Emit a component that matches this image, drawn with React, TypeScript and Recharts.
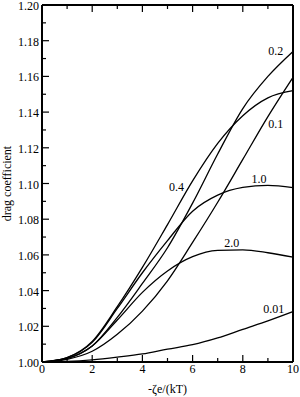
import React from "react";
import {
  LineChart,
  Line,
  XAxis,
  YAxis,
  ReferenceDot,
} from "recharts";

// reduced zeta potential
const xValues = [0, 1, 2, 3, 4, 5, 6, 7, 8, 9, 10];

// drag coefficient, one array per curve
const ka001 = [1.0, 1.0003, 1.0012, 1.0027, 1.0045, 1.0072, 1.0097, 1.0135, 1.0183, 1.023, 1.0282];
const ka01 = [1.0, 1.0015, 1.006, 1.0155, 1.0285, 1.0455, 1.067, 1.0895, 1.1135, 1.1375, 1.1595];
const ka02 = [1.0, 1.002, 1.009, 1.025, 1.044, 1.064, 1.089, 1.1165, 1.142, 1.16, 1.174];
const ka04 = [1.0, 1.0025, 1.0115, 1.031, 1.053, 1.077, 1.1015, 1.1225, 1.138, 1.148, 1.152];
const ka10 = [1.0, 1.0025, 1.011, 1.03, 1.05, 1.068, 1.0845, 1.0935, 1.0978, 1.099, 1.0977];
const ka20 = [1.0, 1.002, 1.009, 1.0235, 1.039, 1.051, 1.059, 1.0625, 1.0628, 1.0612, 1.0587];

const xTicks = [0, 1, 2, 3, 4, 5, 6, 7, 8, 9, 10];
const yTicks = [
  1.0, 1.01, 1.02, 1.03, 1.04, 1.05, 1.06, 1.07, 1.08, 1.09, 1.1,
  1.11, 1.12, 1.13, 1.14, 1.15, 1.16, 1.17, 1.18, 1.19, 1.2,
];

// curve labels: text and where they sit (data units)
const labelText = ["0.2", "0.1", "1.0", "0.4", "2.0", "0.01"];
const labelX = [9.31, 9.31, 8.65, 5.36, 7.56, 9.23];
const labelY = [1.1742, 1.1333, 1.1025, 1.098, 1.067, 1.03];

const data = xValues.map((x, i) => ({
  x,
  ka001: ka001[i],
  ka01: ka01[i],
  ka02: ka02[i],
  ka04: ka04[i],
  ka10: ka10[i],
  ka20: ka20[i],
}));

const FONT = '"Liberation Serif", "Times New Roman", serif';
const MAJOR = 7;
const MINOR = 4;

function XTick(props: any) {
  const { x, y, payload, side } = props;
  const major = payload.value % 2 === 0;
  const len = major ? MAJOR : MINOR;
  const dir = side === "bottom" ? -1 : 1;
  return (
    <g>
      <line x1={x} x2={x} y1={y} y2={y + dir * len} stroke="#000" strokeWidth={1.2} />
      {side === "bottom" && major && (
        <text x={x} y={y + 7} textAnchor="middle" dominantBaseline="central" fontSize={12} fontFamily={FONT} fill="#000">
          {payload.value}
        </text>
      )}
    </g>
  );
}

function YTick(props: any) {
  const { x, y, payload, side } = props;
  const major = Math.round(payload.value * 100) % 2 === 0;
  const len = major ? MAJOR : MINOR;
  const dir = side === "left" ? 1 : -1;
  return (
    <g>
      <line x1={x} x2={x + dir * len} y1={y} y2={y} stroke="#000" strokeWidth={1.2} />
      {side === "left" && major && (
        <text x={x - 3} y={y + 1} textAnchor="end" dominantBaseline="central" fontSize={12} fontFamily={FONT} fill="#000">
          {payload.value.toFixed(2)}
        </text>
      )}
    </g>
  );
}

const series = ["ka001", "ka01", "ka02", "ka04", "ka10", "ka20"];

export default function App() {
  return (
    <div
      style={{
        position: "absolute",
        left: 0,
        top: 0,
        width: 300,
        height: 397,
        background: "#fff",
        fontFamily: FONT,
      }}
    >
      <LineChart
        width={300}
        height={397}
        data={data}
        margin={{ top: 0, right: 0, left: 0, bottom: 0 }}
      >
        <XAxis
          xAxisId="bottom"
          dataKey="x"
          type="number"
          domain={[0, 10]}
          ticks={xTicks}
          height={35}
          tickSize={0}
          tickMargin={0}
          axisLine={{ stroke: "#000", strokeWidth: 2 }}
          tick={(p: any) => <XTick {...p} side="bottom" />}
          interval={0}
          label={{
            content: ({ viewBox }: any) => (
              <text
                x={viewBox.x + viewBox.width / 2}
                y={viewBox.y + 27}
                textAnchor="middle"
                dominantBaseline="central"
                fontSize={12}
                fontFamily={FONT}
                fill="#000"
              >
                -ζe/(kT)
              </text>
            ),
          }}
        />
        <XAxis
          xAxisId="top"
          orientation="top"
          dataKey="x"
          type="number"
          domain={[0, 10]}
          ticks={xTicks}
          height={5}
          tickSize={0}
          tickMargin={0}
          axisLine={{ stroke: "#000", strokeWidth: 2 }}
          tick={(p: any) => <XTick {...p} side="top" />}
          interval={0}
        />
        <YAxis
          yAxisId="left"
          type="number"
          domain={[1.0, 1.2]}
          ticks={yTicks}
          width={42}
          tickSize={0}
          tickMargin={0}
          interval={0}
          allowDataOverflow
          axisLine={{ stroke: "#000", strokeWidth: 2 }}
          tick={(p: any) => <YTick {...p} side="left" />}
          label={{
            content: ({ viewBox }: any) => {
              const cx = 7;
              const cy = viewBox.y + viewBox.height / 2;
              return (
                <text
                  x={cx}
                  y={cy}
                  transform={`rotate(-90 ${cx} ${cy})`}
                  textAnchor="middle"
                  dominantBaseline="central"
                  fontSize={12}
                  fontFamily={FONT}
                  fill="#000"
                >
                  drag coefficient
                </text>
              );
            },
          }}
        />
        <YAxis
          yAxisId="right"
          orientation="right"
          type="number"
          domain={[1.0, 1.2]}
          ticks={yTicks}
          width={7}
          tickSize={0}
          tickMargin={0}
          interval={0}
          axisLine={{ stroke: "#000", strokeWidth: 2 }}
          tick={(p: any) => <YTick {...p} side="right" />}
        />
        {series.map((key) => (
          <Line
            key={key}
            xAxisId="bottom"
            yAxisId="left"
            type="monotone"
            dataKey={key}
            stroke="#000"
            strokeWidth={1.3}
            dot={false}
            isAnimationActive={false}
          />
        ))}
        {labelText.map((t, i) => (
          <ReferenceDot
            key={t}
            xAxisId="bottom"
            yAxisId="left"
            x={labelX[i]}
            y={labelY[i]}
            r={0}
            fill="none"
            stroke="none"
            label={{ value: t, position: "center", fontSize: 12, fontFamily: FONT, fill: "#000" }}
          />
        ))}
      </LineChart>
    </div>
  );
}
